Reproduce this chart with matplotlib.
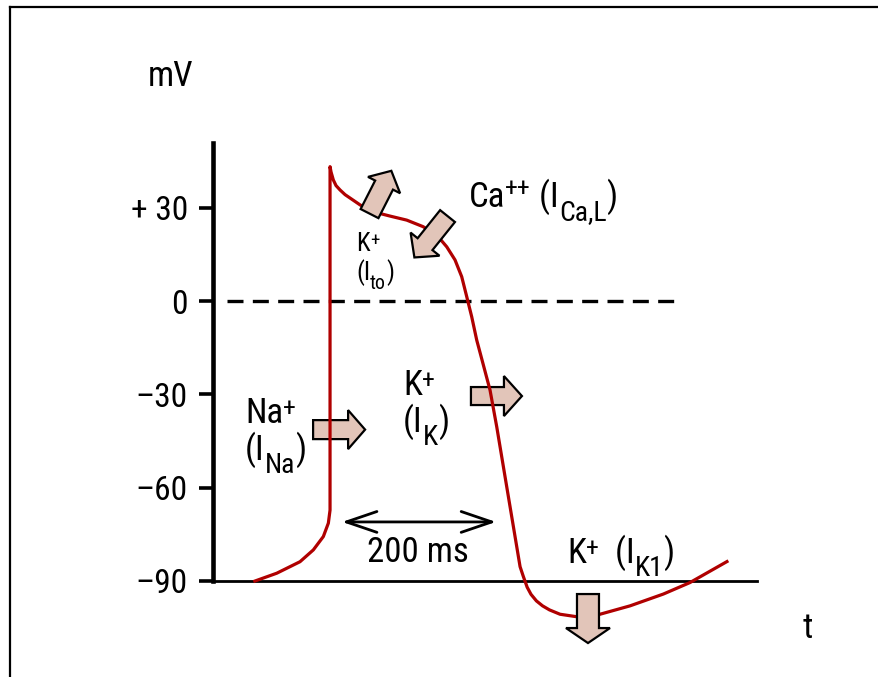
import matplotlib
matplotlib.use("Agg")
from matplotlib import pyplot as plt
from matplotlib.patches import Polygon
from matplotlib.lines import Line2D
import matplotlib.transforms as mtransforms
import numpy as np

# action potential: time (ms, 0 = upstroke), membrane potential (mV)
time_ms = [-99.6, -69.2, -39.0, -21.7, -8.7, -2.2, 0, 0, 1.3, 4.3, 7.8, 13.0, 19.5, 26.0, 39.0,
           55.8, 77.9, 99.6, 120.8, 138.6, 151.6, 162.3, 171.0, 177.5, 184.0, 190.5, 197.4,
           207.8, 216.5, 225.1, 233.8, 242.5, 246.8, 251.1, 256.0, 261.0, 268.0, 276.0, 285.0,
           298.7, 320.4, 350.6, 389.6, 432.9, 467.5, 517.3]
voltage = [-90.2, -87.5, -83.8, -80.0, -75.7, -71.4, -67.2, 43.3, 41.6, 39.0, 37.2, 35.8, 34.3,
           33.2, 31.0, 28.8, 27.4, 26.1, 24.0, 21.3, 17.5, 13.3, 7.9, 1.5, -5.0, -12.5, -18.9,
           -28.6, -40.4, -53.2, -66.1, -79.0, -85.4, -88.6, -92.0, -94.3, -96.4, -98.0, -99.3,
           -100.7, -101.5, -100.7, -98.0, -94.2, -90.5, -83.5]

tick_values = [30, 0, -30, -60, -90]
tick_labels = ["+ 30", "0", "\u201330", "\u201360", "\u201390"]

plt.rcParams["font.family"] = ["Roboto Condensed", "Archivo Narrow", "DejaVu Sans"]

W, H = 879, 677
fig = plt.figure(figsize=(W / 100, H / 100), dpi=100)
ax = fig.add_axes([213 / W, (H - 660) / H, (757 - 213) / W, (660 - 143) / H])
ax.set_xlim(-152, 554.5)
ax.set_ylim(-115.42, 50.91)

ax.spines["top"].set_visible(False)
ax.spines["right"].set_visible(False)
ax.spines["left"].set_bounds(-90, 50.91)
ax.spines["left"].set_linewidth(3.3)
ax.spines["bottom"].set_position(("data", -90))
ax.spines["bottom"].set_linewidth(2)
ax.spines["bottom"].set_zorder(1)
ax.set_xticks([])
ax.set_yticks(tick_values)
ax.set_yticklabels(tick_labels, fontsize=24)
ax.tick_params(axis="y", length=10, width=2.6, pad=8)
ax.patch.set_visible(False)

# zero line
ax.plot([-134, 454], [0, 0], color="black", lw=2.4, dashes=(4.8, 2.8), zorder=2)

ax.plot(time_ms, voltage, color="#b00000", lw=2.3, zorder=4,
        solid_joinstyle="round", solid_capstyle="butt")


def fat_arrow(t, v, angle, length, body, head, head_len, z):
    # shape in pixels, tail centre anchored at (t, v) in data space
    pts = np.array([[0, -body / 2], [length - head_len, -body / 2], [length - head_len, -head / 2],
                    [length, 0], [length - head_len, head / 2], [length - head_len, body / 2],
                    [0, body / 2]])
    a = np.deg2rad(angle)
    rot = np.array([[np.cos(a), -np.sin(a)], [np.sin(a), np.cos(a)]])
    pts = pts @ rot.T
    tr = (mtransforms.Affine2D().scale(1 / fig.dpi) + fig.dpi_scale_trans
          + mtransforms.ScaledTranslation(t, v, ax.transData))
    ax.add_patch(Polygon(pts, closed=True, facecolor="#e2c5b9", edgecolor="black",
                         lw=1.6, transform=tr, zorder=z, clip_on=False, joinstyle="miter"))


fat_arrow(-22, -41.3, 0, 52, 19, 39, 17, 3)       # Na
fat_arrow(183, -30.5, 0, 51, 18, 40, 18, 3)       # IK
fat_arrow(51.3, 28.2, 63, 48, 20, 36, 16, 5)      # Ito
fat_arrow(152.6, 27.4, -128.7, 53, 19, 37, 17, 5)  # ICa,L
fat_arrow(335, -94.2, -90, 49, 22, 44, 15, 5)     # IK1

# 200 ms scale bar
ax.annotate("", xy=(15.6, -71.0), xytext=(215.6, -71.0),
            arrowprops=dict(arrowstyle="<->,head_length=2.2,head_width=0.75", lw=2,
                            color="black", mutation_scale=10, shrinkA=0, shrinkB=0))
ax.text(114, -83.9, "200 ms", fontsize=25, ha="center", va="baseline")

renderer = fig.canvas.get_renderer()


def rich(t, v, parts, size, sup_raise=0.2):
    # lay out plain / superscript / subscript pieces one after another on a baseline
    dx = 0.0
    for txt, kind in parts:
        if kind == "sup":
            fs, dy = size * 0.75, size * sup_raise
        elif kind == "sub":
            fs, dy = size * 0.8, -size * 0.37
        else:
            fs, dy = size, 0.0
        tr = mtransforms.offset_copy(ax.transData, fig=fig, x=dx, y=dy, units="points")
        tx = ax.text(t, v, txt, fontsize=fs, transform=tr, ha="left", va="baseline", zorder=6)
        dx += tx.get_window_extent(renderer).width * 72 / fig.dpi


big = 25
rich(-110.4, -39.2, [("Na", ""), ("+", "sup")], big)
rich(-110.4, -51.1, [("(I", ""), ("Na", "sub"), (")", "")], big)
rich(94.8, -30.2, [("K", ""), ("+", "sup")], big)
rich(94.8, -42.1, [("(I", ""), ("K", "sub"), (")", "")], big)
rich(33.8, 16.2, [("K", ""), ("+", "sup")], 18)
rich(33.8, 6.8, [("(I", ""), ("to", "sub"), (")", "")], 18)
rich(180.5, 30.3, [("Ca", ""), ("++", "sup"), (" (I", ""), ("Ca,L", "sub"), (")", "")], big,
     sup_raise=0.33)
rich(307.8, -84.2, [("K", ""), ("+", "sup"), ("  (I", ""), ("K1", "sub"), (")", "")], big)

fig.text(171 / W, 1 - 77 / H, "mV", fontsize=25, ha="center", va="center")
fig.text(808 / W, 1 - 638 / H, "t", fontsize=25, ha="center", va="baseline")

# frame lines at top and left
fig.add_artist(Line2D([10 / W, 10 / W], [0, 1 - 7 / H], color="black", lw=1.6))
fig.add_artist(Line2D([10 / W, 1], [1 - 7 / H, 1 - 7 / H], color="black", lw=1.6))

fig.savefig("out.png", dpi=100)
